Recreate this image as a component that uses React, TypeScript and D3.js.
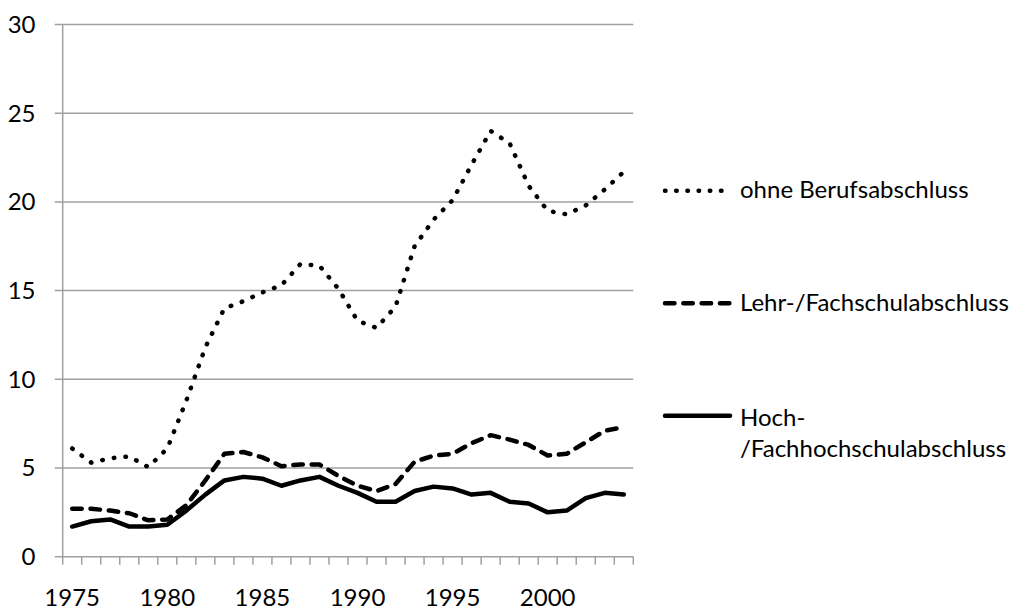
import React from "react";
import * as d3 from "d3";

const years = [
  "1975", "1976", "1977", "1978", "1979", "1980", "1981", "1982", "1983", "1984",
  "1985", "1986", "1987", "1988", "1989", "1990", "1991", "1992", "1993", "1994",
  "1995", "1996", "1997", "1998", "1999", "2000", "2001", "2002", "2003", "2004",
];
const xTickLabels = ["1975", "1980", "1985", "1990", "1995", "2000"];
const yTicks = [0, 5, 10, 15, 20, 25, 30];

const ohneBerufsabschluss = [
  6.1, 5.3, 5.55, 5.65, 5.05, 6.1, 8.8, 11.8, 14.0, 14.4,
  14.9, 15.3, 16.5, 16.4, 15.1, 13.3, 12.9, 14.1, 17.5, 19.0,
  20.1, 22.1, 24.0, 23.3, 20.9, 19.5, 19.3, 19.8, 20.7, 21.7,
];
const lehrFachschul = [
  2.7, 2.7, 2.6, 2.45, 2.05, 2.1, 2.9, 4.3, 5.8, 5.9,
  5.6, 5.1, 5.2, 5.2, 4.55, 4.0, 3.7, 4.1, 5.35, 5.7,
  5.8, 6.4, 6.85, 6.6, 6.3, 5.7, 5.8, 6.45, 7.1, 7.3,
];
const hochFachhochschul = [
  1.7, 2.0, 2.1, 1.7, 1.7, 1.8, 2.6, 3.5, 4.3, 4.5,
  4.4, 4.0, 4.3, 4.5, 4.0, 3.6, 3.1, 3.1, 3.7, 3.95,
  3.85, 3.5, 3.6, 3.1, 3.0, 2.5, 2.6, 3.3, 3.6, 3.5,
];

const seriesNames = ["ohne Berufsabschluss", "Lehr-/Fachschulabschluss", "Hoch-\n/Fachhochschulabschluss"];

const FONT = "Lato, 'Open Sans', sans-serif";
const GRID = "#a0a0a0";
const FS = 24;

export default function App() {
  const W = 1016, H = 609;
  const left = 62.7, right = 633.3, top = 24.5, bottom = 556.7;
  const x = d3.scaleBand<string>().domain(years).range([left, right]);
  const bw = x.bandwidth();
  const cx = (yr: string) => (x(yr) as number) + bw / 2;
  const y = d3.scaleLinear().domain([0, 30]).range([bottom, top]);

  const line = d3
    .line<number>()
    .x((_, i) => cx(years[i]))
    .y((d) => y(d))
    .curve(d3.curveLinear);

  const lw = 4.5;
  const styles = [
    { data: ohneBerufsabschluss, dash: "0.5 11.2" },
    { data: lehrFachschul, dash: "9.5 8.8" },
    { data: hochFachhochschul, dash: null },
  ];

  const boundaries = [...years.map((yr) => x(yr) as number), right];

  const legendY = [190.7, 303.3, 415.7];
  const legendBase = [198.3, 310.7, 425.7];
  const legendDash = ["0.5 10.7", "9.5 8.8", null];

  return (
    <svg
      width={W}
      height={H}
      style={{ position: "absolute", left: 0, top: 0, background: "#fff" }}
      fontFamily={FONT}
    >
      <rect x={0} y={0} width={W} height={H} fill="#fff" />
      {yTicks.map((t) => (
        <line key={"g" + t} x1={left - 8} x2={right} y1={y(t)} y2={y(t)} stroke={GRID} strokeWidth={1.5} />
      ))}
      <line x1={left} x2={left} y1={top} y2={bottom} stroke={GRID} strokeWidth={1.5} />
      {boundaries.map((b, i) => (
        <line key={"t" + i} x1={b} x2={b} y1={bottom} y2={bottom + 8} stroke={GRID} strokeWidth={1.5} />
      ))}
      {yTicks.map((t) => (
        <text key={"yl" + t} x={35.5} y={y(t) + 8.3} textAnchor="end" fontSize={FS} fill="#000">
          {t}
        </text>
      ))}
      {xTickLabels.map((l) => (
        <text key={"xl" + l} x={cx(l)} y={605.5} textAnchor="middle" fontSize={FS} fill="#000">
          {l}
        </text>
      ))}
      {styles.map((s, i) => (
        <path
          key={"s" + i}
          d={line(s.data) as string}
          fill="none"
          stroke="#000"
          strokeWidth={lw}
          strokeLinecap="round"
          strokeLinejoin="round"
          strokeDasharray={s.dash ?? undefined}
        />
      ))}
      {seriesNames.map((name, i) => (
        <g key={"lg" + i}>
          <line
            x1={665}
            x2={730}
            y1={legendY[i]}
            y2={legendY[i]}
            stroke="#000"
            strokeWidth={lw}
            strokeLinecap="round"
            strokeDasharray={legendDash[i] ?? undefined}
          />
          <text x={740} y={legendBase[i]} fontSize={FS} fill="#000">
            {name.split("\n").map((part, j) => (
              <tspan key={j} x={740} dy={j === 0 ? 0 : 31}>
                {part}
              </tspan>
            ))}
          </text>
        </g>
      ))}
    </svg>
  );
}
